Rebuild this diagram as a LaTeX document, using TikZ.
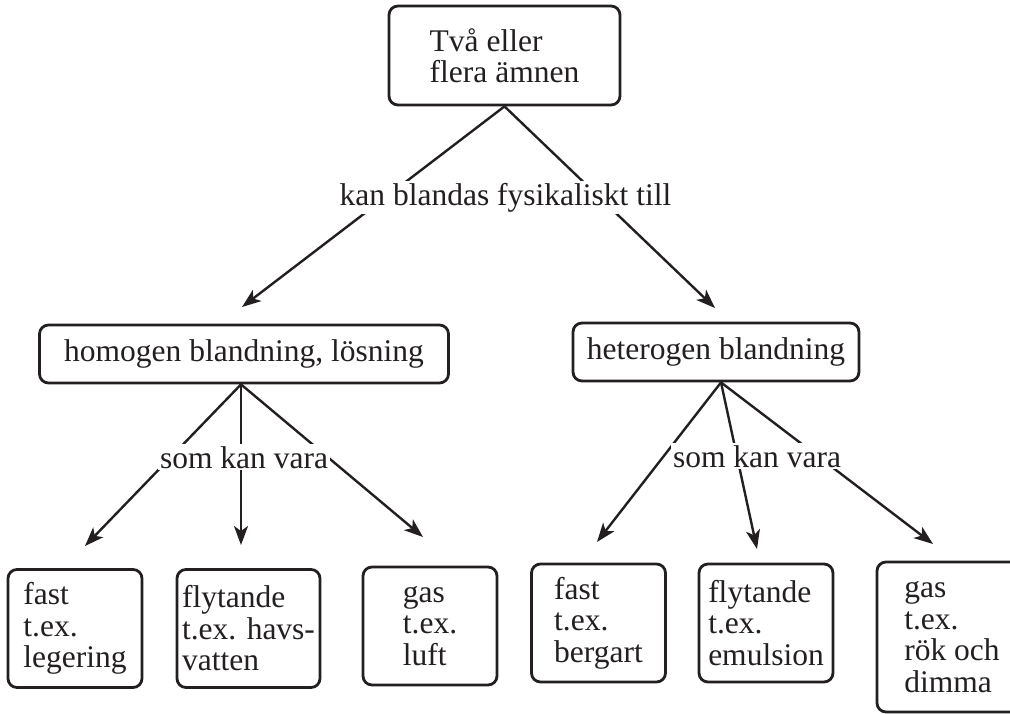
\documentclass[tikz,border=0pt]{standalone}
\usepackage{fontspec}
\setmainfont{Liberation Serif}
\usetikzlibrary{arrows.meta}
\definecolor{ink}{RGB}{35,31,32}
\tikzset{
  box/.style={
    rectangle,
    rounded corners=9pt,
    draw=ink,
    line width=2.8pt,
    text=ink,
    align=left,
    inner sep=4pt,
    font=\fontsize{31.5}{31.5}\selectfont
  },
  leaf/.style={
    box,
    minimum width=134pt,
    minimum height=118pt
  },
  lbl/.style={
    fill=white,
    text=ink,
    inner sep=2pt,
    anchor=base,
    font=\fontsize{31.5}{31.5}\selectfont
  },
  arrow/.style={
    -{Stealth[length=19pt,width=14pt,inset=5pt]},
    line width=2.4pt,
    draw=ink
  }
}

\begin{document}
\begin{tikzpicture}[x=1pt,y=-1pt]
  \useasboundingbox (0,0) rectangle (1010,713);
  \clip (0,0) rectangle (1010,713);

  \node[box, minimum width=231pt, minimum height=99pt] (amnen) at (504.5,55.5) {Två eller\\flera ämnen};
  \node[box, minimum width=409pt, minimum height=58pt] (homogen) at (244,354) {homogen blandning, lösning};
  \node[box, minimum width=286pt, minimum height=58pt] (heterogen) at (716,352) {heterogen blandning};

  \node[leaf] (legering) at (75,628.5) {fast\\t.ex.\\legering};
  \node[leaf, minimum width=143pt] (havsvatten) at (248.5,628.5) {flytande\\t.ex. havs-\\vatten};
  \node[leaf] (luft) at (430,626) {gas\\t.ex.\\luft};
  \node[leaf] (bergart) at (598.5,623) {fast\\t.ex.\\bergart};
  \node[leaf] (emulsion) at (766,623) {flytande\\t.ex.\\emulsion};
  \node[leaf, minimum width=150pt, minimum height=150pt] (dimma) at (952,637) {gas\\t.ex.\\rök och\\dimma};

  % arrow ends, just above the boxes
  \coordinate (homogen-in) at (242,307);
  \coordinate (heterogen-in) at (715,308);
  \coordinate (legering-in) at (85,546);
  \coordinate (havsvatten-in) at (241,545);
  \coordinate (luft-in) at (423,537);
  \coordinate (bergart-in) at (597,542);
  \coordinate (emulsion-in) at (757,549);
  \coordinate (dimma-in) at (933,544);

  \draw[arrow] (amnen.south) -- (homogen-in);
  \draw[arrow] (amnen.south) -- (heterogen-in);
  \draw[arrow] ([xshift=-3pt]homogen.south) -- (legering-in);
  \draw[arrow] ([xshift=-3pt]homogen.south) -- (havsvatten-in);
  \draw[arrow] ([xshift=-3pt]homogen.south) -- (luft-in);
  \draw[arrow] ([xshift=5pt]heterogen.south) -- (bergart-in);
  \draw[arrow] ([xshift=5pt]heterogen.south) -- (emulsion-in);
  \draw[arrow] ([xshift=5pt]heterogen.south) -- (dimma-in);

  % labels sit on top of the lines
  \node[lbl] (fysikaliskt) at (505.5,205) {kan blandas fysikaliskt till};
  \node[lbl] (somhom) at (244,468) {som kan vara};
  \node[lbl] (somhet) at (757,467) {som kan vara};
\end{tikzpicture}
\end{document}
